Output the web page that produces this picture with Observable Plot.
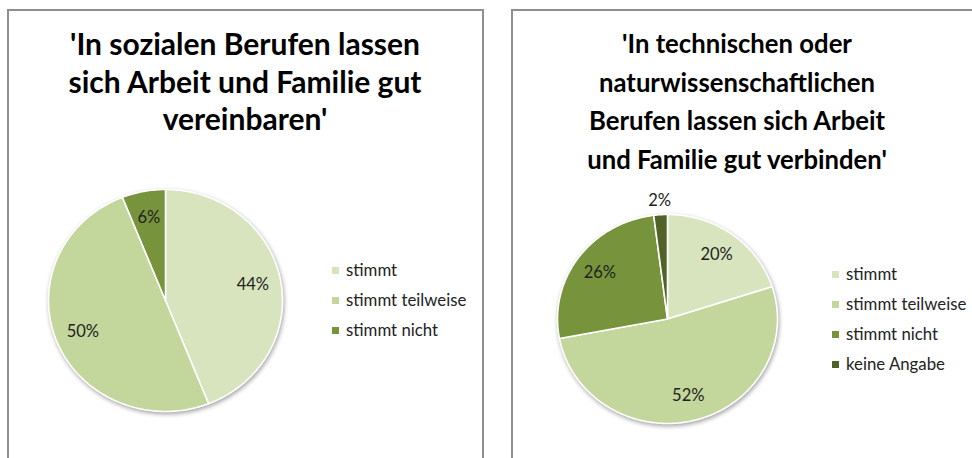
<!DOCTYPE html>
<html><head><meta charset="utf-8">
<script src="https://cdn.jsdelivr.net/npm/d3@7"></script>
<script src="https://cdn.jsdelivr.net/npm/@observablehq/plot@0.6"></script>
<style>
body{margin:0;background:#fff;}
#page{position:relative;width:972px;height:458px;overflow:hidden;font-family:Lato,"Open Sans",sans-serif;background:#fff;}
.panel{position:absolute;border:2px solid #8f8f8f;box-sizing:border-box;background:#fff;}
.title{position:absolute;text-align:center;font-weight:bold;color:#000;white-space:nowrap;}
.abs{position:absolute;}
</style></head><body><div id="page"></div>
<script>
// ---- data ----
const categories = ["stimmt", "stimmt teilweise", "stimmt nicht", "keine Angabe"];
const colors = ["#D7E4BD", "#C3D69B", "#77933C", "#4F6228"];
const socialValues = [0.44, 0.50, 0.06];
const technicalValues = [0.20, 0.52, 0.26, 0.02];
const socialTitle = ["'In sozialen Berufen lassen", "sich Arbeit und Familie gut", "vereinbaren'"];
const technicalTitle = ["'In technischen oder", "naturwissenschaftlichen", "Berufen lassen sich Arbeit", "und Familie gut verbinden'"];

const page = document.getElementById("page");
const font = "Lato, 'Open Sans', sans-serif";

function addPanel(left, top, width, height) {
  const d = document.createElement("div");
  d.className = "panel";
  Object.assign(d.style, {left: left + "px", top: top + "px", width: width + "px", height: height + "px"});
  page.appendChild(d);
}
function addTitle(lines, centerX, top, size, lineHeight) {
  const d = document.createElement("div");
  d.className = "title";
  d.style.left = (centerX - 240) + "px";
  d.style.width = "480px";
  d.style.top = top + "px";
  d.style.fontSize = size + "px";
  d.style.lineHeight = lineHeight + "px";
  d.innerHTML = lines.map(l => l.replace(/&/g, "&amp;")).join("<br>");
  page.appendChild(d);
}

function pieChart(values, cx, cy, rx, ry) {
  const cats = categories.slice(0, values.length);
  const points = [];
  const labels = [];
  let cum = 0;
  values.forEach((v, i) => {
    const a0 = cum, a1 = cum + v;
    const steps = Math.max(2, Math.ceil(v * 360));
    points.push({cat: cats[i], x: 0, y: 0});
    for (let k = 0; k <= steps; k++) {
      const t = 2 * Math.PI * (a0 + (a1 - a0) * k / steps);
      points.push({cat: cats[i], x: Math.sin(t), y: Math.cos(t)});
    }
    const m = 2 * Math.PI * (a0 + a1) / 2;
    const r = v < 0.03 ? 1.13 : 0.76;
    labels.push({x: r * Math.sin(m), y: r * Math.cos(m), text: Math.round(v * 100) + "%"});
    cum = a1;
  });
  const plot = Plot.plot({
    width: 972, height: 458,
    margin: 0,
    style: {fontFamily: font, background: "transparent", overflow: "visible"},
    x: {domain: [-1, 1], range: [cx - rx, cx + rx], axis: null},
    y: {domain: [-1, 1], range: [cy + ry, cy - ry], axis: null},
    color: {type: "ordinal", domain: categories, range: colors},
    marks: [
      Plot.line(points, {x: "x", y: "y", z: "cat", fill: "cat", stroke: "white", strokeWidth: 1.6, curve: "linear-closed"}),
      Plot.text(labels, {x: "x", y: "y", text: "text", fontSize: 16.5, fill: "#222"})
    ]
  });
  const g = plot.querySelector('g[aria-label="line"]');
  if (g) g.style.filter = "drop-shadow(1px 2px 2px rgba(0,0,0,0.35))";
  plot.classList.add("abs");
  plot.style.left = "0px"; plot.style.top = "0px";
  page.appendChild(plot);
}

function legend(n, squareX, centerY) {
  const cats = categories.slice(0, n);
  const step = 30.5;
  const h = (n - 1) * step + 30;
  const plot = Plot.plot({
    width: 134, height: h,
    marginLeft: 4, marginRight: 0, marginTop: 15, marginBottom: 15,
    style: {fontFamily: font, background: "transparent", overflow: "visible"},
    y: {type: "point", padding: 0, domain: cats, range: [15, 15 + (n - 1) * step], axis: null},
    x: {axis: null},
    color: {type: "ordinal", domain: categories, range: colors},
    marks: [
      Plot.dot(cats, {y: d => d, fill: d => d, symbol: "square", r: 3.95, frameAnchor: "left"}),
      Plot.text(cats, {y: d => d, text: d => d, frameAnchor: "left", dx: 10.5, textAnchor: "start", fontSize: 16.8, fill: "#222"})
    ]
  });
  plot.classList.add("abs");
  plot.style.left = (squareX - 4) + "px";
  plot.style.top = (centerY - h / 2) + "px";
  page.appendChild(plot);
}

addPanel(7, 9, 477, 470);
addPanel(511, 9, 470, 470);
addTitle(socialTitle, 245, 25, 30, 37.5);
addTitle(technicalTitle, 737, 24, 25.7, 38.5);
pieChart(socialValues, 165, 300, 117, 111);
pieChart(technicalValues, 667, 318.5, 110, 104.5);
legend(3, 334.5, 299);
legend(4, 835.3, 318.5);
</script></body></html>
